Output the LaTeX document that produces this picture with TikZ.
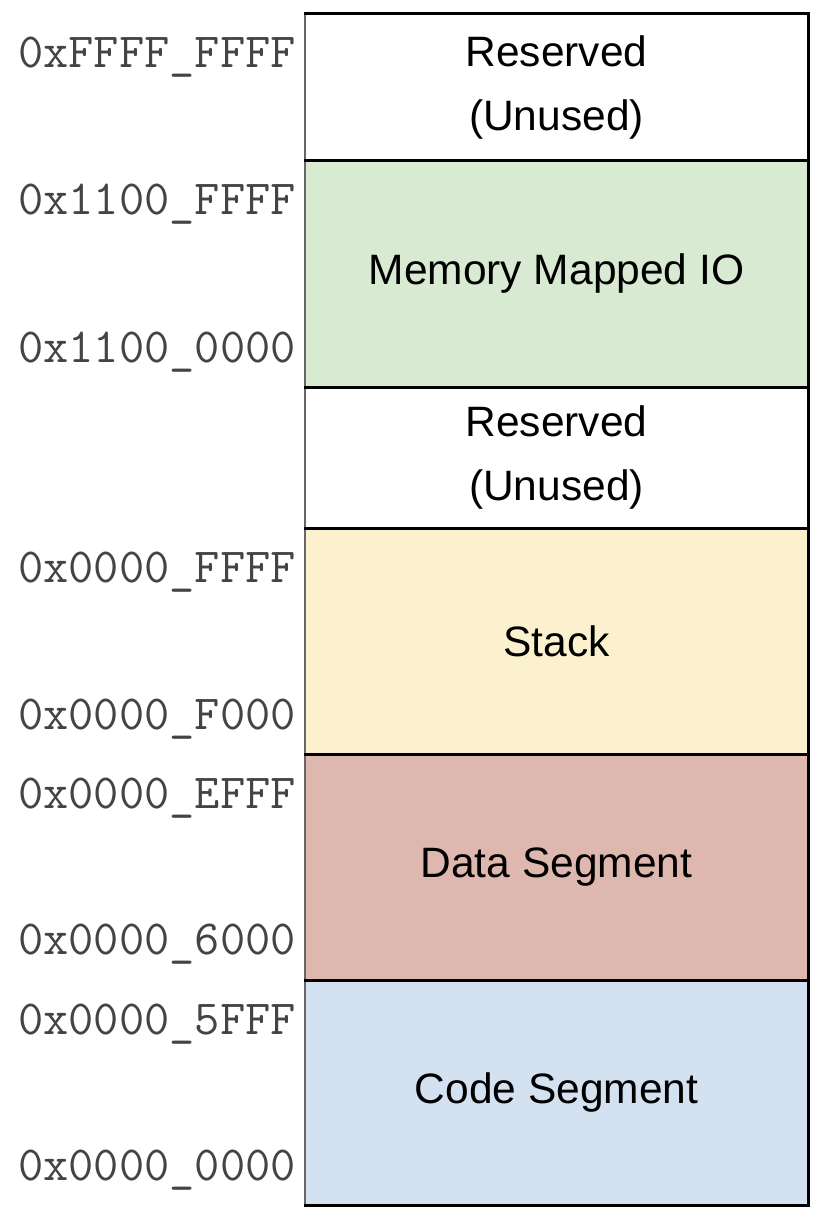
\documentclass[tikz,border=0pt]{standalone}
\usepackage{fontspec}
\setmainfont{Liberation Sans}
\definecolor{cgreen}{HTML}{D9EAD3}
\definecolor{cyellow}{HTML}{FCF1CE}
\definecolor{cred}{HTML}{DEB8AF}
\definecolor{cblue}{HTML}{D3E1F1}
\definecolor{addrgray}{HTML}{444444}
\tikzset{
  region/.style={draw=black!60, line width=1.2pt, inner sep=0pt, outer sep=0pt,
    anchor=north west, minimum width=503pt, align=center,
    font=\fontsize{42.5}{64}\selectfont},
  thickedge/.style={line width=3pt, draw=black, line cap=rect},
  addr/.style={anchor=base east, inner sep=0pt, text=addrgray,
    font=\ttfamily\fontsize{49}{55}\selectfont}
}
\begin{document}
\begin{tikzpicture}[x=1pt,y=-1pt]
\useasboundingbox (0,0) rectangle (832,1222);
\node[region, fill=white,   minimum height=147pt] (r1) at (305,14)  {Reserved\\(Unused)};
\node[region, fill=cgreen,  minimum height=226pt] (r2) at (305,161) {Memory Mapped IO};
\node[region, fill=white,   minimum height=141pt] (r3) at (305,387) {Reserved\\(Unused)};
\node[region, fill=cyellow, minimum height=226pt] (r4) at (305,528) {Stack};
\node[region, fill=cred,    minimum height=226pt] (r5) at (305,754) {Data Segment};
\node[region, fill=cblue,   minimum height=225pt] (r6) at (305,980) {Code Segment};
\draw[thickedge] (r1.north west) -- (r1.north east) -- (r6.south east) -- (r6.south west);
\foreach \r in {r1,r2,r3,r4,r5}
  \draw[thickedge] (\r.south west) -- (\r.south east);
\node[addr] (a1) at (296,68)   {0xFFFF\_FFFF};
\node[addr] (a2) at (296,215)  {0x1100\_FFFF};
\node[addr] (a3) at (296,362)  {0x1100\_0000};
\node[addr] (a4) at (296,582)  {0x0000\_FFFF};
\node[addr] (a5) at (296,729)  {0x0000\_F000};
\node[addr] (a6) at (296,808)  {0x0000\_EFFF};
\node[addr] (a7) at (296,954)  {0x0000\_6000};
\node[addr] (a8) at (296,1034) {0x0000\_5FFF};
\node[addr] (a9) at (296,1180) {0x0000\_0000};
\end{tikzpicture}
\end{document}
